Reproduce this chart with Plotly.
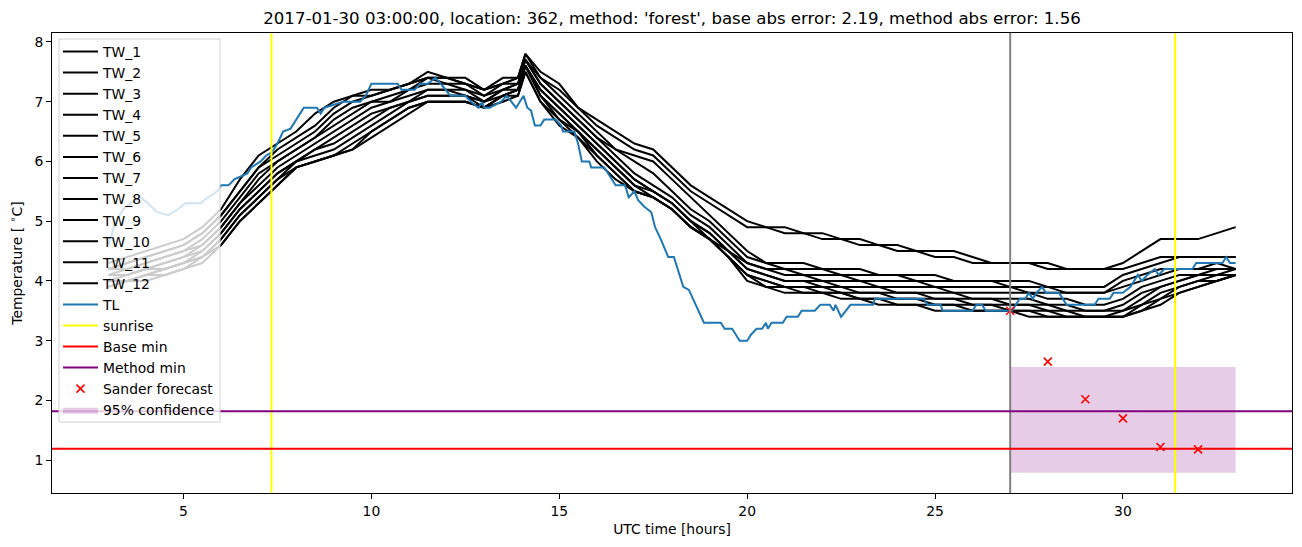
import plotly.graph_objects as go

# ---------------- data ----------------
tw_hours = [3.0, 3.5, 4.0, 4.5, 5.0, 5.5, 6.0, 6.5, 7.0, 7.5,
            8.0, 8.5, 9.0, 9.5, 10.0, 10.5, 11.0, 11.5, 12.0, 12.5,
            13.0, 13.5, 13.9, 14.1, 14.5, 15.0, 15.5, 16.0, 16.5, 17.0,
            17.5, 18.0, 18.5, 19.0, 19.5, 20.0, 20.5, 21.0, 21.5, 22.0,
            22.5, 23.0, 23.5, 24.0, 24.5, 25.0, 25.5, 26.0, 26.5, 27.0,
            27.5, 28.0, 28.5, 29.0, 29.5, 30.0, 30.5, 31.0, 31.5, 32.0,
            32.5, 33.0]

tw_1 = [4.1, 4.2, 4.3, 4.4, 4.5, 4.6, 4.9, 5.3, 5.7, 6.0,
        6.2, 6.4, 6.6, 6.8, 7.0, 7.0, 7.2, 7.3, 7.3, 7.2,
        7.1, 7.2, 7.3, 7.7, 7.3, 7.0, 6.7, 6.4, 6.1, 5.8,
        5.6, 5.4, 5.1, 4.9, 4.6, 4.3, 4.2, 4.2, 4.1, 4.1,
        4.1, 4.0, 4.0, 4.0, 4.0, 3.9, 3.9, 3.9, 3.9, 3.9,
        3.8, 3.8, 3.8, 3.8, 3.8, 3.9, 4.0, 4.1, 4.2, 4.2,
        4.2, 4.2]
tw_2 = [4.0, 4.0, 4.1, 4.2, 4.3, 4.4, 4.7, 5.1, 5.4, 5.7,
        6.0, 6.1, 6.2, 6.4, 6.6, 6.8, 7.0, 7.1, 7.1, 7.1,
        6.9, 7.1, 7.2, 7.6, 7.1, 6.8, 6.5, 6.2, 5.9, 5.6,
        5.4, 5.2, 4.9, 4.7, 4.4, 4.1, 4.0, 3.9, 3.9, 3.9,
        3.8, 3.8, 3.8, 3.7, 3.7, 3.7, 3.7, 3.6, 3.6, 3.6,
        3.6, 3.5, 3.5, 3.4, 3.4, 3.5, 3.6, 3.8, 3.9, 4.0,
        4.1, 4.1]
tw_3 = [4.3, 4.4, 4.5, 4.6, 4.7, 4.9, 5.2, 5.7, 6.1, 6.3,
        6.5, 6.8, 7.0, 7.1, 7.2, 7.2, 7.3, 7.5, 7.4, 7.4,
        7.2, 7.4, 7.4, 7.8, 7.5, 7.3, 6.9, 6.7, 6.5, 6.3,
        6.2, 5.9, 5.6, 5.4, 5.2, 5.0, 4.9, 4.9, 4.8, 4.8,
        4.7, 4.7, 4.6, 4.6, 4.5, 4.5, 4.5, 4.4, 4.3, 4.3,
        4.3, 4.3, 4.2, 4.2, 4.2, 4.3, 4.5, 4.7, 4.7, 4.7,
        4.8, 4.9]
tw_4 = [4.2, 4.3, 4.4, 4.5, 4.6, 4.8, 5.1, 5.5, 5.9, 6.1,
        6.3, 6.5, 6.8, 7.0, 7.1, 7.2, 7.3, 7.4, 7.4, 7.3,
        7.2, 7.3, 7.4, 7.7, 7.4, 7.1, 6.8, 6.5, 6.2, 6.1,
        6.0, 5.7, 5.4, 5.1, 4.8, 4.5, 4.3, 4.3, 4.3, 4.2,
        4.2, 4.2, 4.1, 4.1, 4.1, 4.1, 4.0, 4.0, 4.0, 4.0,
        4.0, 3.9, 3.9, 3.9, 3.9, 4.1, 4.2, 4.3, 4.4, 4.4,
        4.4, 4.4]
tw_5 = [3.9, 4.0, 4.1, 4.1, 4.2, 4.4, 4.6, 5.0, 5.3, 5.6,
        5.9, 6.0, 6.1, 6.2, 6.5, 6.7, 6.9, 7.0, 7.0, 7.0,
        6.9, 7.1, 7.1, 7.5, 7.0, 6.7, 6.4, 6.1, 5.8, 5.5,
        5.4, 5.2, 4.9, 4.7, 4.4, 4.1, 3.9, 3.9, 3.8, 3.8,
        3.8, 3.7, 3.7, 3.6, 3.6, 3.6, 3.6, 3.5, 3.5, 3.5,
        3.5, 3.4, 3.4, 3.4, 3.4, 3.4, 3.5, 3.7, 3.8, 3.9,
        4.0, 4.1]
tw_6 = [4.1, 4.1, 4.2, 4.3, 4.4, 4.5, 4.8, 5.2, 5.5, 5.8,
        6.0, 6.2, 6.4, 6.6, 6.8, 6.9, 7.0, 7.2, 7.2, 7.1,
        7.0, 7.2, 7.2, 7.6, 7.2, 6.9, 6.6, 6.3, 6.0, 5.7,
        5.5, 5.3, 5.0, 4.8, 4.5, 4.2, 4.1, 4.0, 4.0, 4.0,
        3.9, 3.9, 3.9, 3.8, 3.8, 3.8, 3.8, 3.7, 3.7, 3.7,
        3.7, 3.6, 3.6, 3.5, 3.5, 3.6, 3.8, 3.9, 4.0, 4.1,
        4.1, 4.2]
tw_7 = [4.2, 4.3, 4.4, 4.5, 4.6, 4.8, 5.1, 5.5, 5.9, 6.2,
        6.4, 6.6, 6.9, 7.1, 7.1, 7.2, 7.3, 7.4, 7.4, 7.3,
        7.2, 7.3, 7.4, 7.8, 7.4, 7.2, 6.9, 6.6, 6.4, 6.2,
        6.1, 5.8, 5.5, 5.3, 5.1, 4.9, 4.9, 4.8, 4.8, 4.7,
        4.7, 4.6, 4.6, 4.5, 4.5, 4.4, 4.4, 4.3, 4.3, 4.3,
        4.3, 4.2, 4.2, 4.2, 4.2, 4.2, 4.3, 4.4, 4.4, 4.4,
        4.4, 4.4]
tw_8 = [4.2, 4.2, 4.3, 4.4, 4.5, 4.7, 5.0, 5.4, 5.8, 6.0,
        6.2, 6.4, 6.7, 6.9, 7.0, 7.1, 7.2, 7.4, 7.3, 7.3,
        7.1, 7.3, 7.3, 7.7, 7.3, 7.0, 6.7, 6.4, 6.2, 6.0,
        5.8, 5.5, 5.2, 5.0, 4.7, 4.4, 4.3, 4.2, 4.2, 4.2,
        4.1, 4.1, 4.1, 4.1, 4.0, 4.0, 4.0, 4.0, 4.0, 3.9,
        3.9, 3.9, 3.8, 3.8, 3.8, 4.0, 4.1, 4.2, 4.2, 4.2,
        4.3, 4.2]
tw_9 = [3.9, 4.0, 4.0, 4.1, 4.2, 4.3, 4.6, 5.0, 5.3, 5.6,
        5.9, 6.0, 6.1, 6.2, 6.4, 6.6, 6.8, 7.0, 7.0, 7.0,
        6.9, 7.0, 7.1, 7.5, 7.0, 6.6, 6.4, 6.0, 5.7, 5.5,
        5.4, 5.2, 4.9, 4.7, 4.4, 4.0, 3.9, 3.8, 3.8, 3.8,
        3.7, 3.7, 3.6, 3.6, 3.6, 3.5, 3.5, 3.5, 3.5, 3.5,
        3.4, 3.4, 3.4, 3.4, 3.4, 3.4, 3.5, 3.6, 3.8, 3.9,
        4.0, 4.1]
tw_10 = [4.0, 4.1, 4.2, 4.2, 4.3, 4.5, 4.8, 5.2, 5.5, 5.8,
         6.0, 6.2, 6.3, 6.5, 6.7, 6.9, 7.0, 7.1, 7.1, 7.1,
         7.0, 7.1, 7.2, 7.6, 7.1, 6.8, 6.5, 6.2, 5.9, 5.6,
         5.5, 5.3, 5.0, 4.7, 4.5, 4.2, 4.1, 4.0, 4.0, 3.9,
         3.9, 3.8, 3.8, 3.8, 3.8, 3.7, 3.7, 3.7, 3.7, 3.6,
         3.6, 3.6, 3.5, 3.5, 3.5, 3.5, 3.7, 3.9, 4.0, 4.1,
         4.1, 4.1]
tw_11 = [4.1, 4.1, 4.2, 4.3, 4.4, 4.6, 4.9, 5.3, 5.6, 5.9,
         6.1, 6.3, 6.5, 6.7, 6.9, 7.0, 7.1, 7.2, 7.2, 7.2,
         7.0, 7.2, 7.3, 7.6, 7.2, 6.9, 6.6, 6.3, 6.0, 5.7,
         5.5, 5.3, 5.0, 4.8, 4.5, 4.3, 4.2, 4.1, 4.1, 4.0,
         4.0, 4.0, 3.9, 3.9, 3.9, 3.9, 3.8, 3.8, 3.8, 3.8,
         3.8, 3.7, 3.7, 3.6, 3.6, 3.7, 3.9, 4.0, 4.1, 4.1,
         4.2, 4.2]
tw_12 = [4.0, 4.0, 4.1, 4.2, 4.3, 4.4, 4.7, 5.1, 5.4, 5.7,
         5.9, 6.0, 6.1, 6.3, 6.5, 6.7, 6.9, 7.0, 7.0, 7.0,
         6.9, 7.1, 7.2, 7.6, 7.1, 6.7, 6.5, 6.1, 5.8, 5.5,
         5.4, 5.2, 4.9, 4.7, 4.4, 4.1, 4.0, 3.9, 3.9, 3.8,
         3.8, 3.7, 3.7, 3.7, 3.7, 3.6, 3.6, 3.6, 3.6, 3.5,
         3.5, 3.5, 3.4, 3.4, 3.4, 3.4, 3.6, 3.7, 3.9, 4.0,
         4.0, 4.1]

tw_names = ["TW_1", "TW_2", "TW_3", "TW_4", "TW_5", "TW_6",
            "TW_7", "TW_8", "TW_9", "TW_10", "TW_11", "TW_12"]
tw_series = [tw_1, tw_2, tw_3, tw_4, tw_5, tw_6,
             tw_7, tw_8, tw_9, tw_10, tw_11, tw_12]

tl_hours = [3.0, 3.2, 3.4, 3.6, 3.85, 4.05, 4.3, 4.6, 4.85, 5.05,
            5.45, 5.65, 5.9, 6.0, 6.2, 6.35, 6.7, 6.8, 7.05, 7.2,
            7.35, 7.5, 7.65, 7.85, 8.05, 8.2, 8.55, 8.65, 8.75, 9.25,
            9.7, 9.85, 10.0, 10.7, 10.8, 11.15, 11.3, 11.5, 11.7, 11.85,
            12.1, 12.5, 12.65, 12.85, 12.95, 13.0, 13.15, 13.45, 13.6, 13.85,
            14.05, 14.15, 14.25, 14.35, 14.5, 14.6, 14.9, 15.05, 15.1, 15.4,
            15.5, 15.6, 15.8, 15.85, 16.2, 16.3, 16.5, 16.75, 16.85, 17.0,
            17.1, 17.25, 17.45, 17.55, 17.7, 17.9, 18.05, 18.3, 18.45, 18.85,
            19.3, 19.4, 19.6, 19.8, 20.0, 20.1, 20.25, 20.4, 20.5, 20.55,
            20.65, 20.95, 21.05, 21.35, 21.45, 21.8, 21.95, 22.2, 22.3, 22.35,
            22.5, 22.75, 23.35, 23.4, 24.7, 24.8, 25.15, 25.2, 26.0, 26.1,
            26.25, 26.35, 27.05, 27.25, 27.4, 27.5, 27.6, 27.7, 27.85, 27.95,
            28.3, 28.5, 29.25, 29.35, 29.65, 29.75, 30.0, 30.2, 30.4, 30.5,
            30.65, 30.85, 30.95, 31.1, 31.4, 31.85, 31.95, 32.65, 32.75, 32.85,
            33.0]
tl_values = [4.6, 5.0, 5.2, 5.3, 5.4, 5.3, 5.15, 5.1, 5.2, 5.3,
             5.3, 5.4, 5.5, 5.6, 5.6, 5.7, 5.8, 5.9, 6.0, 6.1,
             6.15, 6.3, 6.5, 6.55, 6.75, 6.9, 6.9, 6.8, 6.9, 7.0,
             7.0, 7.1, 7.3, 7.3, 7.2, 7.2, 7.3, 7.3, 7.4, 7.3,
             7.1, 7.1, 7.0, 6.9, 7.0, 6.9, 6.9, 7.0, 7.1, 6.9,
             7.1, 6.9, 6.85, 6.6, 6.6, 6.7, 6.7, 6.6, 6.5, 6.5,
             6.3, 6.0, 6.0, 5.9, 5.9, 5.8, 5.6, 5.6, 5.4, 5.5,
             5.35, 5.25, 5.15, 4.9, 4.7, 4.4, 4.4, 3.9, 3.85, 3.3,
             3.3, 3.2, 3.2, 3.0, 3.0, 3.1, 3.2, 3.2, 3.3, 3.2,
             3.3, 3.3, 3.4, 3.4, 3.5, 3.5, 3.6, 3.6, 3.5, 3.6,
             3.4, 3.6, 3.6, 3.7, 3.7, 3.6, 3.6, 3.5, 3.5, 3.6,
             3.6, 3.5, 3.5, 3.7, 3.7, 3.8, 3.7, 3.8, 3.9, 3.8,
             3.8, 3.6, 3.6, 3.7, 3.7, 3.8, 3.8, 3.9, 4.1, 4.0,
             4.1, 4.2, 4.1, 4.2, 4.2, 4.2, 4.3, 4.3, 4.4, 4.3,
             4.3]

sunrise_hours = [7.34, 31.39]
forecast_start = 27.0
base_min = 1.19
method_min = 1.82
sander_hours = [27, 28, 29, 30, 31, 32]
sander_values = [3.5, 2.65, 2.02, 1.70, 1.22, 1.18]
conf_start = 27.0
conf_end = 33.0
conf_low = 0.79
conf_high = 2.56

x_ticks = [5, 10, 15, 20, 25, 30]
y_ticks = [1, 2, 3, 4, 5, 6, 7, 8]

title_text = ("2017-01-30 03:00:00, location: 362, method: 'forest', "
              "base abs error: 2.19, method abs error: 1.56")

# ---------------- figure ----------------
FONT = "DejaVu Sans"
W, H = 1302, 547
ML, MR, MT, MB = 52, 10, 33, 54
PW, PH = W - ML - MR, H - MT - MB

fig = go.Figure()

# confidence band (drawn first, listed last in legend)
fig.add_trace(go.Scatter(
    x=[conf_start, conf_end, conf_end, conf_start, conf_start],
    y=[conf_low, conf_low, conf_high, conf_high, conf_low],
    mode="lines", fill="toself", fillcolor="rgba(128,0,128,0.2)",
    line=dict(width=0, color="rgba(128,0,128,0)"),
    name="95% confidence", legendrank=2000, hoverinfo="skip"))

for name, vals in zip(tw_names, tw_series):
    fig.add_trace(go.Scatter(x=tw_hours, y=vals, mode="lines",
                             line=dict(color="black", width=2), name=name))

fig.add_trace(go.Scatter(x=tl_hours, y=tl_values, mode="lines",
                         line=dict(color="#1f77b4", width=2), name="TL"))

for nm, col in [("sunrise", "#ffff00"), ("Base min", "#ff0000"),
                ("Method min", "#800080")]:
    fig.add_trace(go.Scatter(x=[None], y=[None], mode="lines",
                             line=dict(color=col, width=2), name=nm))

fig.add_trace(go.Scatter(
    x=sander_hours, y=sander_values, mode="markers",
    marker=dict(symbol="x-thin", size=8, color="red",
                line=dict(color="red", width=1.6)),
    name="Sander forecast"))

shapes = []
for h in sunrise_hours:
    shapes.append(dict(type="line", xref="x", yref="paper", x0=h, x1=h,
                       y0=0, y1=1, line=dict(color="#ffff00", width=2)))
shapes.append(dict(type="line", xref="x", yref="paper", x0=forecast_start,
                   x1=forecast_start, y0=0, y1=1,
                   line=dict(color="#808080", width=2)))
shapes.append(dict(type="line", xref="paper", yref="y", x0=0, x1=1,
                   y0=base_min, y1=base_min,
                   line=dict(color="#ff0000", width=2)))
shapes.append(dict(type="line", xref="paper", yref="y", x0=0, x1=1,
                   y0=method_min, y1=method_min,
                   line=dict(color="#800080", width=2)))
# legend frame (semi-transparent, like matplotlib's framealpha=0.8)
box_l, box_r, box_t, box_b = 59, 220, 39, 422
shapes.append(dict(type="rect", xref="paper", yref="paper",
                   x0=(box_l - ML) / PW, x1=(box_r - ML) / PW,
                   y0=1 - (box_b - MT) / PH, y1=1 - (box_t - MT) / PH,
                   fillcolor="rgba(255,255,255,0.8)",
                   line=dict(color="#d0d0d0", width=1), layer="above"))

axis_common = dict(ticks="outside", ticklen=5, tickwidth=1, tickcolor="black",
                   showline=True, linecolor="black", linewidth=1, mirror=True,
                   showgrid=False, zeroline=False,
                   tickfont=dict(family=FONT, size=13.9, color="black"))

fig.update_xaxes(range=[1.5, 34.5], tickvals=x_ticks,
                 title=dict(text="UTC time [hours]", standoff=6,
                            font=dict(family=FONT, size=13.9, color="black")),
                 **axis_common)
fig.update_yaxes(range=[0.45, 8.15], tickvals=y_ticks,
                 title=dict(text="Temperature [ <sup>∘</sup>C]", standoff=8,
                            font=dict(family=FONT, size=13.9, color="black")),
                 **axis_common)

fig.update_layout(
    width=W, height=H, autosize=False,
    margin=dict(l=ML, r=MR, t=MT, b=MB, autoexpand=False),
    paper_bgcolor="white", plot_bgcolor="white",
    font=dict(family=FONT, color="black"),
    title=dict(text=title_text, x=0.5, xref="paper", xanchor="center",
               y=1 - 18 / H, yref="container", yanchor="middle",
               font=dict(family=FONT, size=16.6, color="black")),
    shapes=shapes,
    showlegend=True,
    legend=dict(x=(58 - ML) / PW, y=1 - (36 - MT) / PH,
                xanchor="left", yanchor="top",
                bgcolor="rgba(0,0,0,0)", borderwidth=0,
                traceorder="normal", itemwidth=35,
                font=dict(family=FONT, size=13.9, color="black")),
)

fig.write_html("out.html")
